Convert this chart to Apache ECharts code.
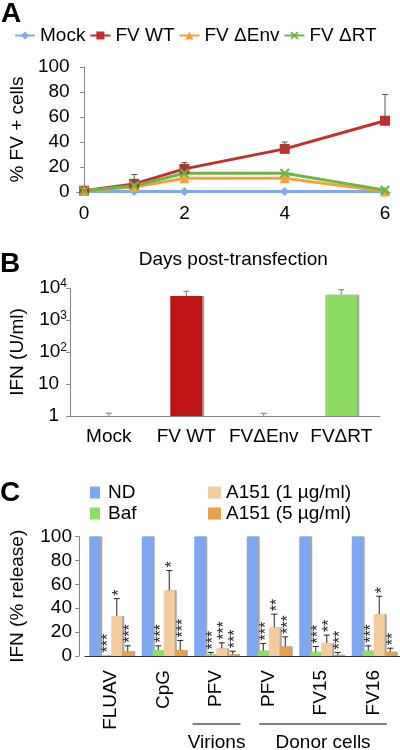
<!DOCTYPE html>
<html><head><meta charset="utf-8">
<script src="https://cdn.jsdelivr.net/npm/echarts@6/dist/echarts.min.js"></script>
<style>html,body{margin:0;padding:0;background:#fff}#c{width:400px;height:750px}</style>
</head><body><div id="c"></div>
<script>
const FONT = '"Liberation Sans", Arial, sans-serif';
// ---------- Panel A ----------
const aDays = [0, 1, 2, 4, 6];
const aMock = [0.5, 0.5, 0.5, 0.5, 0.5];
const aWT = [1, 6.5, 18.5, 34.5, 57];
const aWTErr = [0, 7.5, 5, 5.5, 21];
const aEnv = [1, 4, 11, 11, 0.5];
const aRT = [1, 5, 15, 15, 1.5];
const aTicks = [0, 2, 4, 6];
// ---------- Panel B ----------
const bCats = ['Mock', 'FV WT', 'FVΔEnv', 'FVΔRT'];
const bVals = [1, 5600, 1, 6200];
const bErrTop = [1.22, 7900, 1.22, 8800];
// ---------- Panel C ----------
const cCats = ['FLUAV', 'CpG', 'PFV', 'PFV', 'FV15', 'FV16'];
const cND = [100, 100, 100, 100, 100, 100];
const cBaf = [0.5, 5, 1.5, 4.5, 3.5, 4.5];
const cBafErr = [0, 3.5, 1.5, 6, 4.5, 4];
const cA1 = [33.5, 55, 6.5, 24, 11, 35];
const cA1Err = [14.5, 16.5, 4.5, 11, 6.5, 15];
const cA5 = [4, 5, 1.5, 8, 1, 3.5];
const cA5Err = [4.5, 8, 2.5, 8, 2, 3];
const cBafStars = ['***', '***', '***', '***', '***', '***'];
const cA1Stars = ['*', '*', '***', '**', '**', '*'];
const cA5Stars = ['***', '***', '***', '***', '***', '**'];
const cGroups = [{label: 'Virions', from: 2, to: 2}, {label: 'Donor cells', from: 3, to: 5}];

const chart = echarts.init(document.getElementById('c'), null, {renderer: 'canvas'});
const XPATH = 'path://M0,1.5 L1.5,0 L5,3.5 L8.5,0 L10,1.5 L6.5,5 L10,8.5 L8.5,10 L5,6.5 L1.5,10 L0,8.5 L3.5,5 Z';
const txt = {fontFamily: FONT, color: '#000'};
const grayLine = {lineStyle: {color: '#868686', width: 1}};

function lineSeries(name, vals, symbol, color, size) {
  return {type: 'line', name, xAxisIndex: 0, yAxisIndex: 0,
    data: aDays.map((d, i) => [d, vals[i]]), symbol, symbolSize: size,
    lineStyle: {width: 3, color}, itemStyle: {color}, z: 3};
}
function cErrSeries(name, vals, errs, stars, off) {
  return {type: 'custom', name, xAxisIndex: 2, yAxisIndex: 2, z: 6,
    data: vals.map((v, i) => [i, v, errs[i]]),
    renderItem: (params, api) => {
      const i = api.value(0), v = api.value(1), e = api.value(2);
      const p0 = api.coord([i, v]); const p1 = api.coord([i, v + e]);
      const x = p0[0] + off;
      const ch = [];
      if (e > 0) {
        ch.push({type: 'line', shape: {x1: x, y1: p0[1], x2: x, y2: p1[1]}, style: {stroke: '#222', lineWidth: 1}});
        ch.push({type: 'line', shape: {x1: x - 3, y1: p1[1], x2: x + 3, y2: p1[1]}, style: {stroke: '#222', lineWidth: 1}});
      }
      ch.push({type: 'text', x: x + 3, y: p1[1] - 3, rotation: Math.PI / 2,
        style: {text: stars[params.dataIndex], fontSize: 16, fontFamily: FONT, fill: '#222', align: 'left', verticalAlign: 'middle'}});
      return {type: 'group', children: ch};
    }};
}
const barShadow = {shadowColor: 'rgba(0,0,0,0.35)', shadowOffsetX: 2, shadowBlur: 0};

const option = {
  animation: false,
  backgroundColor: '#fff',
  textStyle: {fontFamily: FONT},
  grid: [
    {left: 67, right: 10, top: 67, height: 125},
    {left: 60, right: 20, top: 288, height: 128},
    {left: 81, right: -5, top: 536.5, height: 119.5}
  ],
  legend: [
    {data: ['Mock', 'FV WT', 'FV ΔEnv', 'FV ΔRT'], left: 14, top: 26, padding: 0, itemWidth: 20, itemHeight: 10, itemGap: 4,
      textStyle: Object.assign({fontSize: 19}, txt)},
    {data: ['ND', 'Baf'], orient: 'vertical', left: 90, top: 483, padding: 0, itemWidth: 10, itemHeight: 12, itemGap: 2, icon: 'rect',
      textStyle: Object.assign({fontSize: 19, padding: [0, 0, 0, 3]}, txt)},
    {data: ['A151 (1 µg/ml)', 'A151 (5 µg/ml)'], orient: 'vertical', left: 208, top: 483, padding: 0, itemWidth: 13, itemHeight: 12, itemGap: 2, icon: 'rect',
      textStyle: Object.assign({fontSize: 19}, txt)}
  ],
  xAxis: [
    {type: 'value', gridIndex: 0, min: -0.15, max: 6.1,
      axisLine: grayLine, axisTick: {show: false}, splitLine: {show: false},
      axisLabel: Object.assign({fontSize: 19, margin: 12, customValues: aTicks}, txt),
      name: 'Days post-transfection', nameLocation: 'middle', nameGap: 58,
      nameTextStyle: Object.assign({fontSize: 19}, txt)},
    {type: 'category', gridIndex: 1, data: bCats,
      axisLine: grayLine, axisTick: {length: 5, lineStyle: {color: '#868686'}},
      axisLabel: Object.assign({fontSize: 19, margin: 11, interval: 0}, txt)},
    {type: 'category', gridIndex: 2, data: cCats,
      axisLine: {lineStyle: {color: '#333', width: 1}}, axisTick: {show: false},
      axisLabel: Object.assign({fontSize: 19, margin: 14, rotate: 90, interval: 0}, txt)}
  ],
  yAxis: [
    {type: 'value', gridIndex: 0, min: 0, max: 100, interval: 20,
      axisLine: Object.assign({show: true}, grayLine), axisTick: {show: true, length: 4, lineStyle: {color: '#868686'}},
      splitLine: {show: false},
      axisLabel: Object.assign({fontSize: 19, margin: 7}, txt),
      name: '% FV + cells', nameLocation: 'middle', nameRotate: 90, nameGap: 45,
      nameTextStyle: Object.assign({fontSize: 19}, txt)},
    {type: 'log', logBase: 10, gridIndex: 1, min: 1, max: 10000,
      axisLine: Object.assign({show: true}, grayLine), axisTick: {show: true, length: 4, lineStyle: {color: '#868686'}},
      splitLine: {show: false}, minorTick: {show: false},
      axisLabel: {margin: 3, formatter: (v) => {
        const e = Math.round(Math.log10(v));
        if (e === 0) return '{b|1}{p|}';
        if (e === 1) return '{b|10}{p|}';
        return '{b|10}{s|' + e + '}';
      }, rich: {
        b: {fontSize: 19, fontFamily: FONT, color: '#000'},
        s: {fontSize: 12, fontFamily: FONT, color: '#000', padding: [0, 0, 9, 0]},
        p: {width: 8}
      }},
      name: 'IFN (U/ml)', nameLocation: 'middle', nameRotate: 90, nameGap: 37,
      nameTextStyle: Object.assign({fontSize: 19}, txt)},
    {type: 'value', gridIndex: 2, min: 0, max: 100, interval: 20, offset: 6,
      axisLine: Object.assign({show: true}, grayLine), axisTick: {show: true, length: 4, lineStyle: {color: '#868686'}},
      splitLine: {show: false},
      axisLabel: Object.assign({fontSize: 19, margin: 7}, txt),
      name: 'IFN (% release)', nameLocation: 'middle', nameRotate: 90, nameGap: 52,
      nameTextStyle: Object.assign({fontSize: 19}, txt)}
  ],
  series: [
    lineSeries('Mock', aMock, 'diamond', '#7EAAEA', 9),
    lineSeries('FV WT', aWT, 'rect', '#C0302E', 10),
    lineSeries('FV ΔEnv', aEnv, 'triangle', '#F2A33A', 10),
    lineSeries('FV ΔRT', aRT, XPATH, '#6DB443', 10),
    {type: 'custom', name: 'errA', xAxisIndex: 0, yAxisIndex: 0, z: 5,
      data: aDays.map((d, i) => [d, aWT[i], aWTErr[i]]),
      renderItem: (params, api) => {
        const e = api.value(2);
        if (!(e > 0)) return null;
        const p0 = api.coord([api.value(0), api.value(1)]);
        const p1 = api.coord([api.value(0), api.value(1) + e]);
        return {type: 'group', children: [
          {type: 'line', shape: {x1: p0[0], y1: p0[1], x2: p1[0], y2: p1[1]}, style: {stroke: '#555', lineWidth: 1}},
          {type: 'line', shape: {x1: p1[0] - 3, y1: p1[1], x2: p1[0] + 3, y2: p1[1]}, style: {stroke: '#555', lineWidth: 1}}
        ]};
      }},
    {type: 'bar', name: 'IFN', xAxisIndex: 1, yAxisIndex: 1, barWidth: 32,
      data: bVals.map((v, i) => ({value: v, itemStyle: {color: ['#BE1414', '#BE1414', '#8DDD64', '#8DDD64'][i]}})),
      itemStyle: barShadow},
    {type: 'custom', name: 'errB', xAxisIndex: 1, yAxisIndex: 1, z: 5,
      data: bVals.map((v, i) => [i, v, bErrTop[i]]),
      renderItem: (params, api) => {
        const p0 = api.coord([api.value(0), api.value(1)]);
        const p1 = api.coord([api.value(0), api.value(2)]);
        return {type: 'group', children: [
          {type: 'line', shape: {x1: p0[0], y1: p0[1], x2: p1[0], y2: p1[1]}, style: {stroke: '#777', lineWidth: 1}},
          {type: 'line', shape: {x1: p1[0] - 3, y1: p1[1], x2: p1[0] + 3, y2: p1[1]}, style: {stroke: '#777', lineWidth: 1}}
        ]};
      }},
    {type: 'bar', name: 'ND', xAxisIndex: 2, yAxisIndex: 2, barWidth: 11, barGap: '0%', data: cND,
      itemStyle: Object.assign({color: '#7EA7F3'}, barShadow)},
    {type: 'bar', name: 'Baf', xAxisIndex: 2, yAxisIndex: 2, barWidth: 11, barGap: '0%', data: cBaf,
      itemStyle: Object.assign({color: '#8CDF64'}, barShadow)},
    {type: 'bar', name: 'A151 (1 µg/ml)', xAxisIndex: 2, yAxisIndex: 2, barWidth: 11, barGap: '0%', data: cA1,
      itemStyle: Object.assign({color: '#F3CB9C'}, barShadow)},
    {type: 'bar', name: 'A151 (5 µg/ml)', xAxisIndex: 2, yAxisIndex: 2, barWidth: 11, barGap: '0%', data: cA5,
      itemStyle: Object.assign({color: '#E7A14C'}, barShadow)},
    cErrSeries('errBaf', cBaf, cBafErr, cBafStars, -5.5),
    cErrSeries('errA1', cA1, cA1Err, cA1Stars, 5.5),
    cErrSeries('errA5', cA5, cA5Err, cA5Stars, 16.5)
  ],
  graphic: [
    {type: 'text', left: 1, top: 0, style: {text: 'A', font: 'bold 28px ' + FONT, fill: '#000'}},
    {type: 'text', left: 0, top: 250, style: {text: 'B', font: 'bold 28px ' + FONT, fill: '#000'}},
    {type: 'text', left: 0, top: 479, style: {text: 'C', font: 'bold 28px ' + FONT, fill: '#000'}}
  ]
};
chart.setOption(option);

// Group brackets under panel C, positioned from the category axis
const bracketPad = [[0.45, 0.46], [0.18, 0.25]];
const cw = chart.convertToPixel({xAxisIndex: 2}, 1) - chart.convertToPixel({xAxisIndex: 2}, 0);
const extra = [];
cGroups.forEach((g, k) => {
  const x1 = chart.convertToPixel({xAxisIndex: 2}, g.from) - bracketPad[k][0] * cw;
  const x2 = chart.convertToPixel({xAxisIndex: 2}, g.to) + bracketPad[k][1] * cw;
  extra.push({type: 'line', shape: {x1, y1: 724, x2, y2: 724}, style: {stroke: '#000', lineWidth: 1}});
  extra.push({type: 'text', x: (x1 + x2) / 2, y: 743, style: {text: g.label, font: '19px ' + FONT, fill: '#000', align: 'center', verticalAlign: 'middle'}});
});
chart.setOption({graphic: option.graphic.concat(extra)});
</script></body></html>
